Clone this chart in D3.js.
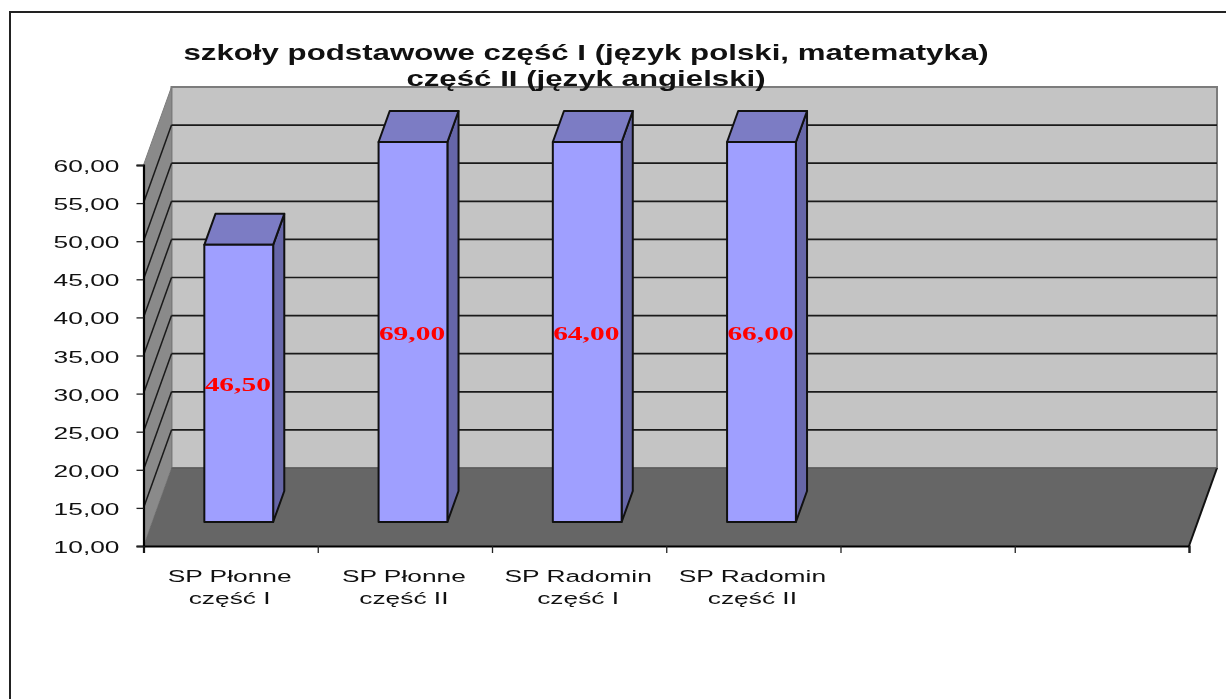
<!DOCTYPE html>
<html>
<head>
<meta charset="utf-8">
<script src="https://cdn.jsdelivr.net/npm/d3@7"></script>
<style>
body{margin:0;background:#fff;overflow:hidden;}
svg{display:block;filter:blur(0.4px);}
text{fill:#111;font-family:"Liberation Sans",sans-serif;}
</style>
</head>
<body>
<div id="chart"></div>
<script>
var titleLines=["szkoły podstawowe część I (język polski, matematyka)","część II (język angielski)"];
var categories=[["SP Płonne","część I"],["SP Płonne","część II"],["SP Radomin","część I"],["SP Radomin","część II"],["",""],["",""]];
var values=[46.5,69,64,66];
var yTicks=[10,15,20,25,30,35,40,45,50,55,60];

var width=1226;
var height=699;
var stretch=1.55;
var plotLeft=143.5,plotRight=1189,plotBottom=546,plotTop=165;
var depthX=28,depthY=78;

var svg=d3.select("#chart")
  .append("svg")
  .attr("width",width)
  .attr("height",height);

var yScale=d3.scaleLinear().domain([10,60]).range([plotBottom,plotTop]);
var xScale=d3.scaleBand().domain(d3.range(categories.length)).range([plotLeft,plotRight]).paddingInner(0.605).paddingOuter(0.3025);
var xEdge=d3.scaleLinear().domain([0,categories.length]).range([plotLeft,plotRight]);

function pts(a){return a.map(function(p){return p.join(",");}).join(" ");}
function fmt(d){return d3.format(".2f")(d).replace(".",",");}

// outer frame
svg.append("path")
  .attr("d","M10,"+height+"V12H"+width)
  .attr("fill","none").attr("stroke","#222").attr("stroke-width",2);

// walls and floor
svg.append("polygon")
  .attr("points",pts([[plotLeft+depthX,plotTop-depthY],[plotRight+depthX,plotTop-depthY],[plotRight+depthX,plotBottom-depthY],[plotLeft+depthX,plotBottom-depthY]]))
  .attr("fill","#c4c4c4").attr("stroke","#7c7c7c").attr("stroke-width",2);
svg.append("polygon")
  .attr("points",pts([[plotLeft,plotTop],[plotLeft+depthX,plotTop-depthY],[plotLeft+depthX,plotBottom-depthY],[plotLeft,plotBottom]]))
  .attr("fill","#8a8a8a").attr("stroke","#7c7c7c").attr("stroke-width",1);
svg.append("polygon")
  .attr("points",pts([[plotLeft,plotBottom],[plotLeft+depthX,plotBottom-depthY],[plotRight+depthX,plotBottom-depthY],[plotRight,plotBottom]]))
  .attr("fill","#666");
svg.append("line")
  .attr("x1",plotRight).attr("y1",plotBottom).attr("x2",plotRight+depthX).attr("y2",plotBottom-depthY)
  .attr("stroke","#111").attr("stroke-width",2);
svg.append("line")
  .attr("x1",plotLeft+depthX).attr("y1",plotBottom-depthY).attr("x2",plotRight+depthX).attr("y2",plotBottom-depthY)
  .attr("stroke","#555").attr("stroke-width",1);

// grid
var gridTicks=yTicks.slice(1,-1);
svg.selectAll(".back").data(gridTicks).enter().append("line")
  .attr("class","back")
  .attr("x1",plotLeft+depthX).attr("x2",plotRight+depthX)
  .attr("y1",function(d){return yScale(d)-depthY;})
  .attr("y2",function(d){return yScale(d)-depthY;})
  .attr("stroke","#1a1a1a").attr("stroke-width",1.7);
svg.selectAll(".side").data(gridTicks).enter().append("line")
  .attr("class","side")
  .attr("x1",plotLeft).attr("x2",plotLeft+depthX)
  .attr("y1",function(d){return yScale(d);})
  .attr("y2",function(d){return yScale(d)-depthY;})
  .attr("stroke","#1a1a1a").attr("stroke-width",1.5);

// bars, cut at the top of the axis
var barDepth0=24,barDepth1=31;
var barX0=barDepth0*depthX/depthY,barX1=barDepth1*depthX/depthY;
var bars=svg.selectAll(".bar").data(values).enter().append("g").attr("class","bar");
bars.each(function(d,i){
  var g=d3.select(this);
  var x0=xScale(i)+barX0-0.5;
  var x1=x0+xScale.bandwidth();
  var yt=yScale(Math.min(d,60))-barDepth0+1;
  var yb=yScale(10)-barDepth0;
  g.append("polygon")
    .attr("points",pts([[x1,yt],[x1+barX1,yt-barDepth1],[x1+barX1,yb-barDepth1],[x1,yb]]))
    .attr("fill","#6666a8");
  g.append("polygon")
    .attr("points",pts([[x0,yt],[x0+barX1,yt-barDepth1],[x1+barX1,yt-barDepth1],[x1,yt]]))
    .attr("fill","#7c7cc4");
  g.append("rect")
    .attr("x",x0).attr("y",yt).attr("width",x1-x0).attr("height",yb-yt)
    .attr("fill","#9f9fff");
  g.selectAll("polygon,rect").attr("stroke","#111").attr("stroke-width",2).attr("stroke-linejoin","round");
  g.append("text")
    .attr("transform","translate("+((x0+x1)/2-1)+","+((yt+yb)/2+7.5)+") scale("+stretch+",1)")
    .attr("text-anchor","middle")
    .style("font-family","'Liberation Serif',serif")
    .style("font-weight","bold")
    .style("font-size","19px")
    .style("fill","#ff0000")
    .text(fmt(d));
});

// axes
var yAxis=d3.axisLeft(yScale).tickValues(yTicks).tickSize(7).tickFormat("");
var xAxis=d3.axisBottom(xEdge).tickValues(d3.range(categories.length+1)).tickSize(7).tickFormat("");
var yG=svg.append("g").attr("transform","translate("+plotLeft+",0)").call(yAxis);
var xG=svg.append("g").attr("transform","translate(0,"+plotBottom+")").call(xAxis);
[yG,xG].forEach(function(g){
  g.selectAll("path").attr("stroke","#000").attr("stroke-width",2.2);
  g.selectAll("line").attr("stroke","#222").attr("stroke-width",1.3);
});

// tick labels
svg.selectAll(".ylab").data(yTicks).enter().append("text")
  .attr("class","ylab")
  .attr("transform",function(d){return "translate(119.5,"+(yScale(d)+7)+") scale("+stretch+",1)";})
  .attr("text-anchor","end")
  .style("font-size","17px")
  .text(fmt);

var catG=svg.selectAll(".cat").data(categories).enter().append("g")
  .attr("class","cat");
[0,1].forEach(function(line){
  catG.append("text")
    .attr("transform",function(d,i){return "translate("+(xEdge(i+0.5)-1)+","+(582+line*22)+") scale("+stretch+",1)";})
    .attr("text-anchor","middle")
    .style("font-size","17px")
    .text(function(d){return d[line];});
});

// title
svg.selectAll(".title").data(titleLines).enter().append("text")
  .attr("class","title")
  .attr("transform",function(d,i){return "translate(586,"+(60+i*26)+") scale(1.42,1)";})
  .attr("text-anchor","middle")
  .style("font-size","22px")
  .style("font-weight","bold")
  .text(function(d){return d;});
</script>
</body>
</html>
